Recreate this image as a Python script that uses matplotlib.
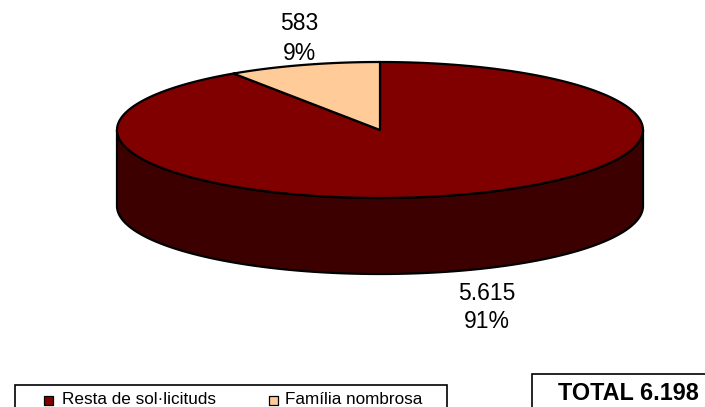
import numpy as np
import matplotlib
matplotlib.use("Agg")
import matplotlib.pyplot as plt
from matplotlib.patches import Polygon, Rectangle

# ---- data ----
categories = ["Resta de sol·licituds", "Família nombrosa"]
values = [5615, 583]
top_colors = ["#800000", "#FFCC99"]
side_colors = ["#3D0000", "#A08060"]
total_label = "TOTAL"

def fmt_num(v):
    return f"{v:,}".replace(",", ".")

total = sum(values)
fracs = [v / total for v in values]

# ---- figure ----
W, H = 705, 407
fig = plt.figure(figsize=(W / 100, H / 100), dpi=100)
ax = fig.add_axes([0, 0, 1, 1])
ax.set_xlim(0, W)
ax.set_ylim(H, 0)
ax.axis("off")

FONT = "Liberation Sans"

# pie geometry (pixels)
cx, cy = 380, 130
rx, ry = 263, 68
depth = 76
lw = 1.6

def pt(phi_deg, dy=0.0):
    p = np.radians(phi_deg)
    return cx + rx * np.sin(p), cy - ry * np.cos(p) + dy

# slice angles (clockwise from 12 o'clock)
starts = np.concatenate([[0], np.cumsum(fracs)[:-1]]) * 360
ends = np.cumsum(fracs) * 360

# side walls: visible front half 90..270
for s, e, sc in zip(starts, ends, side_colors):
    a0, a1 = max(s, 90), min(e, 270)
    if a1 <= a0:
        continue
    ph = np.linspace(a0, a1, 200)
    top = [pt(p) for p in ph]
    bot = [pt(p, depth) for p in ph[::-1]]
    ax.add_patch(Polygon(top + bot, closed=True, facecolor=sc,
                         edgecolor="black", linewidth=lw, joinstyle="round"))

# top faces
for s, e, tc in zip(starts, ends, top_colors):
    ph = np.linspace(s, e, 300)
    verts = [(cx, cy)] + [pt(p) for p in ph]
    ax.add_patch(Polygon(verts, closed=True, facecolor=tc,
                         edgecolor="black", linewidth=lw, joinstyle="round"))

# data labels
label_pos = [(487, 294, 322), (299, 23, 53)]
for v, f, (lx, y1, y2) in zip(values, fracs, label_pos):
    ax.text(lx, y1, fmt_num(v), ha="center", va="center", fontsize=16.5,
            family=FONT, color="black")
    ax.text(lx, y2, f"{round(f * 100)}%", ha="center", va="center",
            fontsize=16.5, family=FONT, color="black")

# legend box
ax.add_patch(Rectangle((15, 385), 432, 30, facecolor="white",
                       edgecolor="black", linewidth=1.2, clip_on=False))
leg_items = [(44, 62), (269, 285)]
for (mx, tx), name, tc in zip(leg_items, categories, top_colors):
    ax.add_patch(Rectangle((mx, 395.5), 9, 9, facecolor=tc,
                           edgecolor="black", linewidth=0.9))
    ax.text(tx, 400, name, ha="left", va="center", fontsize=12.3,
            family=FONT, color="black")

# total box
ax.add_patch(Rectangle((532, 374), 180, 40, facecolor="white",
                       edgecolor="black", linewidth=1.2, clip_on=False))
ax.text(628, 393, f"{total_label} {fmt_num(total)}", ha="center", va="center",
        fontsize=16.8, fontweight="bold", family=FONT, color="black")

fig.savefig("out.png", dpi=100)
